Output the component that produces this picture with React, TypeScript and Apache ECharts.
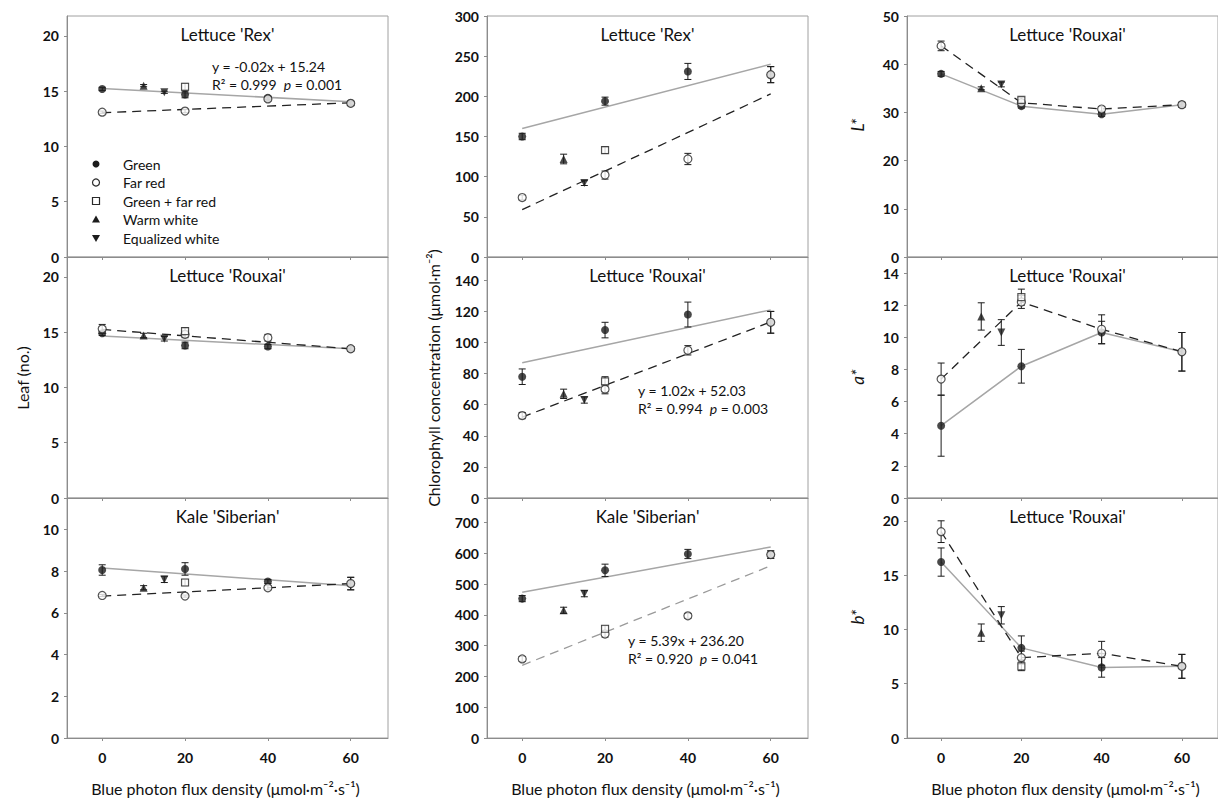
import React, { useEffect, useRef } from 'react';
import * as echarts from 'echarts';

// ---------- shared x data ----------
const xGreen = [0, 20, 40, 60];
const xFarRed = [0, 20, 40, 60];
const xGFR = [20];
const xWarm = [10];
const xEq = [15];
const xTicks = [0, 20, 40, 60];
const fitX = [0, 60];

const legendNames = ['Green', 'Far red', 'Green + far red', 'Warm white', 'Equalized white'];
const titles = ["Lettuce 'Rex'", "Lettuce 'Rouxai'", "Kale 'Siberian'", "Lettuce 'Rex'", "Lettuce 'Rouxai'", "Kale 'Siberian'", "Lettuce 'Rouxai'", "Lettuce 'Rouxai'", "Lettuce 'Rouxai'"];

// ---------- y ticks ----------
const leafTicks = [0, 5, 10, 15, 20];
const kaleLeafTicks = [0, 2, 4, 6, 8, 10];
const chlRexTicks = [0, 50, 100, 150, 200, 250, 300];
const chlRouxaiTicks = [0, 20, 40, 60, 80, 100, 120, 140];
const chlKaleTicks = [0, 100, 200, 300, 400, 500, 600, 700];
const lStarTicks = [0, 10, 20, 30, 40, 50];
const aStarTicks = [0, 2, 4, 6, 8, 10, 12, 14];
const bStarTicks = [0, 5, 10, 15, 20];

// ---------- Leaf (no.) – Lettuce 'Rex' ----------
const leafRexGreen = [15.2, 14.7, 14.4, 13.9];
const leafRexGreenErr = [0.15, 0.3, 0.15, 0.15];
const leafRexFarRed = [13.1, 13.2, 14.3, 13.9];
const leafRexFarRedErr = [0.1, 0.15, 0.2, 0.2];
const leafRexGFR = [15.4];
const leafRexGFRErr = [0.3];
const leafRexWarm = [15.5];
const leafRexWarmErr = [0.1];
const leafRexEq = [14.9];
const leafRexEqErr = [0.1];
const leafRexSolidFit = [15.24, 14.04];
const leafRexDashedFit = [13.05, 13.95];

// ---------- Leaf (no.) – Lettuce 'Rouxai' ----------
const leafRouxaiGreen = [14.9, 13.8, 13.7, 13.5];
const leafRouxaiGreenErr = [0.2, 0.3, 0.2, 0.2];
const leafRouxaiFarRed = [15.3, 14.8, 14.5, 13.5];
const leafRouxaiFarRedErr = [0.4, 0.3, 0.3, 0.2];
const leafRouxaiGFR = [15.1];
const leafRouxaiGFRErr = [0.3];
const leafRouxaiWarm = [14.7];
const leafRouxaiWarmErr = [0.2];
const leafRouxaiEq = [14.4];
const leafRouxaiEqErr = [0.2];
const leafRouxaiSolidFit = [14.65, 13.5];
const leafRouxaiDashedFit = [15.25, 13.5];

// ---------- Leaf (no.) – Kale 'Siberian' ----------
const leafKaleGreen = [8.05, 8.1, 7.5, 7.4];
const leafKaleGreenErr = [0.25, 0.3, 0.1, 0.3];
const leafKaleFarRed = [6.83, 6.8, 7.2, 7.4];
const leafKaleFarRedErr = [0.05, 0.05, 0.1, 0.3];
const leafKaleGFR = [7.45];
const leafKaleGFRErr = [0.15];
const leafKaleWarm = [7.2];
const leafKaleWarmErr = [0.1];
const leafKaleEq = [7.6];
const leafKaleEqErr = [0.15];
const leafKaleSolidFit = [8.15, 7.3];
const leafKaleDashedFit = [6.8, 7.4];

// ---------- Chlorophyll – Lettuce 'Rex' ----------
const chlRexGreen = [150, 194, 231, 227];
const chlRexGreenErr = [4, 5, 10, 10];
const chlRexFarRed = [74, 102, 122, 227];
const chlRexFarRedErr = [3, 5, 7, 10];
const chlRexGFR = [133];
const chlRexGFRErr = [4];
const chlRexWarm = [122];
const chlRexWarmErr = [6];
const chlRexEq = [92];
const chlRexEqErr = [3];
const chlRexSolidFit = [160, 240];
const chlRexDashedFit = [59, 203];

// ---------- Chlorophyll – Lettuce 'Rouxai' ----------
const chlRouxaiGreen = [78, 108, 118, 113];
const chlRouxaiGreenErr = [5, 5, 8, 7];
const chlRouxaiFarRed = [53, 70, 95, 113];
const chlRouxaiFarRedErr = [2, 3, 3, 7];
const chlRouxaiGFR = [75];
const chlRouxaiGFRErr = [3];
const chlRouxaiWarm = [67];
const chlRouxaiWarmErr = [3];
const chlRouxaiEq = [63];
const chlRouxaiEqErr = [2];
const chlRouxaiSolidFit = [87, 121];
const chlRouxaiDashedFit = [52.03, 113.23];

// ---------- Chlorophyll – Kale 'Siberian' ----------
const chlKaleGreen = [453, 545, 598, 596];
const chlKaleGreenErr = [10, 20, 15, 12];
const chlKaleFarRed = [257, 338, 397, 596];
const chlKaleFarRedErr = [8, 10, 8, 12];
const chlKaleGFR = [355];
const chlKaleGFRErr = [10];
const chlKaleWarm = [415];
const chlKaleWarmErr = [10];
const chlKaleEq = [469];
const chlKaleEqErr = [10];
const chlKaleSolidFit = [474, 621];
const chlKaleDashedFit = [236.2, 559.6];

// ---------- L* – Lettuce 'Rouxai' ----------
const lStarGreen = [38, 31.3, 29.6, 31.6];
const lStarGreenErr = [0.5, 0.4, 0.4, 0.5];
const lStarFarRed = [43.8, 32.0, 30.7, 31.6];
const lStarFarRedErr = [1, 0.6, 0.5, 0.5];
const lStarGFR = [32.6];
const lStarGFRErr = [0.5];
const lStarWarm = [35];
const lStarWarmErr = [0.3];
const lStarEq = [35.8];
const lStarEqErr = [0.5];

// ---------- a* – Lettuce 'Rouxai' ----------
const aStarGreen = [4.5, 8.2, 10.3, 9.1];
const aStarGreenErr = [1.9, 1.05, 0.7, 1.2];
const aStarFarRed = [7.4, 12.2, 10.5, 9.1];
const aStarFarRedErr = [1.0, 0.4, 0.9, 1.2];
const aStarGFR = [12.5];
const aStarGFRErr = [0.5];
const aStarWarm = [11.3];
const aStarWarmErr = [0.85];
const aStarEq = [10.3];
const aStarEqErr = [0.8];

// ---------- b* – Lettuce 'Rouxai' ----------
const bStarGreen = [16.2, 8.3, 6.5, 6.6];
const bStarGreenErr = [1.3, 1.1, 0.9, 1.1];
const bStarFarRed = [19.0, 7.4, 7.8, 6.6];
const bStarFarRedErr = [1.0, 0.6, 1.1, 1.1];
const bStarGFR = [6.6];
const bStarGFRErr = [0.4];
const bStarWarm = [9.7];
const bStarWarmErr = [0.8];
const bStarEq = [11.3];
const bStarEqErr = [0.8];

// ---------- layout ----------
const FONT = 'Lato, "Noto Sans", sans-serif';
const GRID_LEFT = [67, 487, 907];
const GRID_TOP = [16, 257, 498];
const GRID_W = 321;
const GRID_H = [241, 241, 240];
const X_MIN = -8.5;
const X_MAX = 69;
const AXIS_COLOR = '#8c8c8c';
const SOLID_COLOR = '#a6a6a6';
const DARK = '#1c1c1c';

type Panel = {
  col: number; row: number; yMax: number; yTicks: number[];
  green: number[]; greenErr: number[];
  farRed: number[]; farRedErr: number[];
  gfr: number[]; gfrErr: number[];
  warm: number[]; warmErr: number[];
  eq: number[]; eqErr: number[];
  solid: number[] | null; dashed: number[] | null; dashedColor: string;
};

const panels: Panel[] = [
  { col: 0, row: 0, yMax: 21.8, yTicks: leafTicks, green: leafRexGreen, greenErr: leafRexGreenErr, farRed: leafRexFarRed, farRedErr: leafRexFarRedErr, gfr: leafRexGFR, gfrErr: leafRexGFRErr, warm: leafRexWarm, warmErr: leafRexWarmErr, eq: leafRexEq, eqErr: leafRexEqErr, solid: leafRexSolidFit, dashed: leafRexDashedFit, dashedColor: '#222' },
  { col: 0, row: 1, yMax: 21.8, yTicks: leafTicks, green: leafRouxaiGreen, greenErr: leafRouxaiGreenErr, farRed: leafRouxaiFarRed, farRedErr: leafRouxaiFarRedErr, gfr: leafRouxaiGFR, gfrErr: leafRouxaiGFRErr, warm: leafRouxaiWarm, warmErr: leafRouxaiWarmErr, eq: leafRouxaiEq, eqErr: leafRouxaiEqErr, solid: leafRouxaiSolidFit, dashed: leafRouxaiDashedFit, dashedColor: '#222' },
  { col: 0, row: 2, yMax: 11.5, yTicks: kaleLeafTicks, green: leafKaleGreen, greenErr: leafKaleGreenErr, farRed: leafKaleFarRed, farRedErr: leafKaleFarRedErr, gfr: leafKaleGFR, gfrErr: leafKaleGFRErr, warm: leafKaleWarm, warmErr: leafKaleWarmErr, eq: leafKaleEq, eqErr: leafKaleEqErr, solid: leafKaleSolidFit, dashed: leafKaleDashedFit, dashedColor: '#222' },
  { col: 1, row: 0, yMax: 300, yTicks: chlRexTicks, green: chlRexGreen, greenErr: chlRexGreenErr, farRed: chlRexFarRed, farRedErr: chlRexFarRedErr, gfr: chlRexGFR, gfrErr: chlRexGFRErr, warm: chlRexWarm, warmErr: chlRexWarmErr, eq: chlRexEq, eqErr: chlRexEqErr, solid: chlRexSolidFit, dashed: chlRexDashedFit, dashedColor: '#222' },
  { col: 1, row: 1, yMax: 155, yTicks: chlRouxaiTicks, green: chlRouxaiGreen, greenErr: chlRouxaiGreenErr, farRed: chlRouxaiFarRed, farRedErr: chlRouxaiFarRedErr, gfr: chlRouxaiGFR, gfrErr: chlRouxaiGFRErr, warm: chlRouxaiWarm, warmErr: chlRouxaiWarmErr, eq: chlRouxaiEq, eqErr: chlRouxaiEqErr, solid: chlRouxaiSolidFit, dashed: chlRouxaiDashedFit, dashedColor: '#222' },
  { col: 1, row: 2, yMax: 780, yTicks: chlKaleTicks, green: chlKaleGreen, greenErr: chlKaleGreenErr, farRed: chlKaleFarRed, farRedErr: chlKaleFarRedErr, gfr: chlKaleGFR, gfrErr: chlKaleGFRErr, warm: chlKaleWarm, warmErr: chlKaleWarmErr, eq: chlKaleEq, eqErr: chlKaleEqErr, solid: chlKaleSolidFit, dashed: chlKaleDashedFit, dashedColor: '#9a9a9a' },
  { col: 2, row: 0, yMax: 50, yTicks: lStarTicks, green: lStarGreen, greenErr: lStarGreenErr, farRed: lStarFarRed, farRedErr: lStarFarRedErr, gfr: lStarGFR, gfrErr: lStarGFRErr, warm: lStarWarm, warmErr: lStarWarmErr, eq: lStarEq, eqErr: lStarEqErr, solid: null, dashed: null, dashedColor: '#222' },
  { col: 2, row: 1, yMax: 15, yTicks: aStarTicks, green: aStarGreen, greenErr: aStarGreenErr, farRed: aStarFarRed, farRedErr: aStarFarRedErr, gfr: aStarGFR, gfrErr: aStarGFRErr, warm: aStarWarm, warmErr: aStarWarmErr, eq: aStarEq, eqErr: aStarEqErr, solid: null, dashed: null, dashedColor: '#222' },
  { col: 2, row: 2, yMax: 22.1, yTicks: bStarTicks, green: bStarGreen, greenErr: bStarGreenErr, farRed: bStarFarRed, farRedErr: bStarFarRedErr, gfr: bStarGFR, gfrErr: bStarGFRErr, warm: bStarWarm, warmErr: bStarWarmErr, eq: bStarEq, eqErr: bStarEqErr, solid: null, dashed: null, dashedColor: '#222' },
];

const pts = (xs: number[], ys: number[]) => xs.map((x, k) => [x, ys[k]]);
const errs = (xs: number[], ys: number[], es: number[]) =>
  xs.map((x, k) => [x, ys[k] - es[k], ys[k] + es[k]]).filter((_, k) => es[k] > 0);

const renderErrorBar = (params: any, api: any) => {
  const x = api.value(0);
  const lo = api.coord([x, api.value(1)]);
  const hi = api.coord([x, api.value(2)]);
  const w = 3.5;
  const st = { stroke: DARK, lineWidth: 1 };
  return {
    type: 'group',
    children: [
      { type: 'line', shape: { x1: lo[0], y1: lo[1], x2: hi[0], y2: hi[1] }, style: st },
      { type: 'line', shape: { x1: lo[0] - w, y1: lo[1], x2: lo[0] + w, y2: lo[1] }, style: st },
      { type: 'line', shape: { x1: hi[0] - w, y1: hi[1], x2: hi[0] + w, y2: hi[1] }, style: st },
    ],
  };
};

const openStyle = { color: '#ffffff', borderColor: '#2a2a2a', borderWidth: 1.2 };
const filledStyle = { color: DARK };

function buildOption() {
  const grid: any[] = [];
  const xAxis: any[] = [];
  const yAxis: any[] = [];
  const series: any[] = [];
  const labelStyle = { color: '#111', fontFamily: FONT, fontSize: 14, fontWeight: 'bold' };

  panels.forEach((p, i) => {
    grid.push({
      left: GRID_LEFT[p.col], top: GRID_TOP[p.row], width: GRID_W, height: GRID_H[p.row],
      show: true, borderColor: '#a0a0a0', borderWidth: 1, containLabel: false,
    });
    xAxis.push({
      gridIndex: i, type: 'value', min: X_MIN, max: X_MAX,
      axisLine: { onZero: false, lineStyle: { color: AXIS_COLOR, width: 1 } },
      axisTick: { show: true, customValues: xTicks, length: 3, lineStyle: { color: AXIS_COLOR } },
      axisLabel: { show: p.row === 2, customValues: xTicks, margin: 12, ...labelStyle },
      splitLine: { show: false },
    });
    yAxis.push({
      gridIndex: i, type: 'value', min: 0, max: p.yMax,
      axisLine: { show: true, onZero: false, lineStyle: { color: AXIS_COLOR, width: 1 } },
      axisTick: { show: true, customValues: p.yTicks, length: 3, lineStyle: { color: AXIS_COLOR } },
      axisLabel: { show: true, customValues: p.yTicks, margin: 8, ...labelStyle },
      splitLine: { show: false },
    });
    const ax = { xAxisIndex: i, yAxisIndex: i };
    series.push({
      ...ax, type: 'line', silent: true, z: 2, symbol: 'none',
      data: p.solid ? pts(fitX, p.solid) : pts(xGreen, p.green),
      lineStyle: { color: SOLID_COLOR, width: 1.5 },
    });
    series.push({
      ...ax, type: 'line', silent: true, z: 2, symbol: 'none',
      data: p.dashed ? pts(fitX, p.dashed) : pts(xFarRed, p.farRed),
      lineStyle: { color: p.dashedColor, width: 1.3, type: [9, 6] },
    });
    series.push({
      ...ax, type: 'custom', silent: true, z: 3, renderItem: renderErrorBar,
      encode: { x: 0, y: [1, 2] },
      data: [
        ...errs(xGreen, p.green, p.greenErr),
        ...errs(xFarRed, p.farRed, p.farRedErr),
        ...errs(xGFR, p.gfr, p.gfrErr),
        ...errs(xWarm, p.warm, p.warmErr),
        ...errs(xEq, p.eq, p.eqErr),
      ],
    });
    series.push({ ...ax, type: 'scatter', name: legendNames[0], z: 4, symbol: 'circle', symbolSize: 8, itemStyle: filledStyle, data: pts(xGreen, p.green) });
    series.push({ ...ax, type: 'scatter', name: legendNames[1], z: 5, symbol: 'circle', symbolSize: 8, itemStyle: openStyle, data: pts(xFarRed, p.farRed) });
    series.push({ ...ax, type: 'scatter', name: legendNames[2], z: 5, symbol: 'rect', symbolSize: 7, itemStyle: openStyle, data: pts(xGFR, p.gfr) });
    series.push({ ...ax, type: 'scatter', name: legendNames[3], z: 5, symbol: 'triangle', symbolSize: 8, itemStyle: filledStyle, data: pts(xWarm, p.warm) });
    series.push({ ...ax, type: 'scatter', name: legendNames[4], z: 5, symbol: 'triangle', symbolRotate: 180, symbolSize: 8, itemStyle: filledStyle, data: pts(xEq, p.eq) });
  });

  const graphic: any[] = [];
  // panel titles
  panels.forEach((p, i) => {
    graphic.push({
      type: 'text', x: GRID_LEFT[p.col] + GRID_W / 2, y: GRID_TOP[p.row] + 18,
      style: { text: titles[i], fill: '#111', font: `17px ${FONT}`, align: 'center', verticalAlign: 'middle' },
    });
  });
  // equations
  const eq = (x: number, y: number, line1: string, r2: string, pv: string) => {
    graphic.push({ type: 'text', x, y, style: { text: line1, fill: '#111', font: `14px ${FONT}`, verticalAlign: 'middle' } });
    graphic.push({
      type: 'text', x, y: y + 18,
      style: {
        text: `{a|R² = ${r2}  }{b|p}{a| = ${pv}}`, verticalAlign: 'middle',
        rich: {
          a: { fill: '#111', fontSize: 14, fontFamily: FONT },
          b: { fill: '#111', fontSize: 14, fontFamily: FONT, fontStyle: 'italic' },
        },
      },
    });
  };
  eq(212, 66, 'y = -0.02x + 15.24', '0.999', '0.001');
  eq(638, 390, 'y = 1.02x + 52.03', '0.994', '0.003');
  eq(628, 640, 'y = 5.39x + 236.20', '0.920', '0.041');

  // legend
  const lx = 96;
  const ly0 = 164;
  const lgap = 18.5;
  legendNames.forEach((name, k) => {
    const cy = ly0 + k * lgap;
    let marker: any;
    if (k === 0) marker = { type: 'circle', shape: { cx: lx, cy, r: 3.5 }, style: { fill: DARK } };
    else if (k === 1) marker = { type: 'circle', shape: { cx: lx, cy, r: 3.5 }, style: { fill: '#fff', stroke: '#2a2a2a', lineWidth: 1.2 } };
    else if (k === 2) marker = { type: 'rect', shape: { x: lx - 3.5, y: cy - 3.5, width: 7, height: 7 }, style: { fill: '#fff', stroke: '#2a2a2a', lineWidth: 1.2 } };
    else if (k === 3) marker = { type: 'polygon', shape: { points: [[lx, cy - 4], [lx + 4, cy + 3], [lx - 4, cy + 3]] }, style: { fill: DARK } };
    else marker = { type: 'polygon', shape: { points: [[lx - 4, cy - 3], [lx + 4, cy - 3], [lx, cy + 4]] }, style: { fill: DARK } };
    graphic.push(marker);
    graphic.push({ type: 'text', x: 123, y: cy, style: { text: name, fill: '#111', font: `14px ${FONT}`, verticalAlign: 'middle' } });
  });

  // y axis names
  const yName = (x: number, y: number, text: string, italic = false, size = 16) =>
    graphic.push({
      type: 'text', x, y, rotation: Math.PI / 2,
      style: { text, fill: '#111', font: `${italic ? 'italic ' : ''}${size}px ${FONT}`, align: 'center', verticalAlign: 'middle' },
    });
  yName(22, 378, 'Leaf (no.)');
  yName(433, 378, 'Chlorophyll concentration (μmol·m⁻²)');
  yName(857, 125, 'L*', true, 17);
  yName(857, 377, 'a*', true, 17);
  yName(857, 617, 'b*', true, 17);

  // x axis names
  [0, 1, 2].forEach((c) => {
    graphic.push({
      type: 'text', x: GRID_LEFT[c] + GRID_W / 2 - 2, y: 788,
      style: { text: 'Blue photon flux density (μmol·m⁻²·s⁻¹)', fill: '#111', font: `16px ${FONT}`, align: 'center', verticalAlign: 'middle' },
    });
  });

  return {
    animation: false,
    backgroundColor: '#ffffff',
    grid, xAxis, yAxis, series, graphic,
  };
}

export default function App() {
  const ref = useRef<HTMLDivElement>(null);
  useEffect(() => {
    if (!ref.current) return;
    const chart = echarts.init(ref.current, undefined, { renderer: 'svg' });
    chart.setOption(buildOption() as any);
    return () => chart.dispose();
  }, []);
  return (
    <div
      ref={ref}
      style={{ position: 'fixed', left: 0, top: 0, width: 1218, height: 798, background: '#fff' }}
    />
  );
}
